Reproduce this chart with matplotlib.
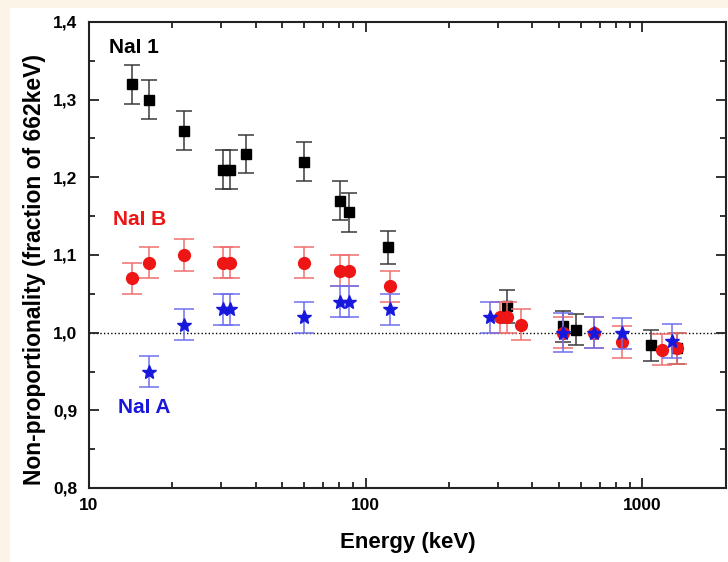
import matplotlib
matplotlib.use("Agg")
import matplotlib.pyplot as plt
from matplotlib.patches import Rectangle
from matplotlib.ticker import FixedLocator, FuncFormatter, LogLocator, NullFormatter

plt.rcParams["font.family"] = ["Liberation Sans", "DejaVu Sans"]
plt.rcParams["font.weight"] = "bold"

# NaI 1 (black squares)
e_nai1 = [14.35, 16.5, 22.1, 30.6, 32.2, 37.0, 59.6, 80.9, 86.7, 120.6,
          324, 517, 575, 1072, 1330]
v_nai1 = [1.32, 1.30, 1.26, 1.21, 1.21, 1.23, 1.22, 1.17, 1.155, 1.11,
          1.034, 1.008, 1.004, 0.984, 0.98]
err_nai1 = [0.025, 0.025, 0.025, 0.025, 0.025, 0.025, 0.025, 0.025, 0.025, 0.021,
            0.021, 0.02, 0.02, 0.02, 0.02]

# NaI B (red circles)
e_naib = [14.35, 16.5, 22.1, 30.6, 32.2, 59.6, 80.9, 86.7, 122,
          307, 325, 363, 517, 671, 842, 1178, 1330]
v_naib = [1.07, 1.09, 1.10, 1.09, 1.09, 1.09, 1.08, 1.08, 1.06,
          1.02, 1.02, 1.01, 1.00, 1.00, 0.988, 0.978, 0.98]
err_naib = [0.02] * len(e_naib)

# NaI A (blue stars)
e_naia = [16.5, 22.1, 30.6, 32.2, 59.6, 80.9, 86.7, 122, 281, 517, 671, 842, 1282]
v_naia = [0.95, 1.01, 1.03, 1.03, 1.02, 1.04, 1.04, 1.03, 1.02, 1.00, 1.00, 0.999, 0.989]
err_naia = [0.02, 0.02, 0.02, 0.02, 0.02, 0.02, 0.02, 0.02, 0.02, 0.025, 0.02, 0.02, 0.022]

y_ticks = [0.8, 0.9, 1.0, 1.1, 1.2, 1.3, 1.4]
x_ticks = [10, 100, 1000]

RED = "#ee1515"
BLUE = "#1818dd"
CREAM = "#fcf4e6"

fig = plt.figure(figsize=(7.28, 5.62), dpi=100, facecolor=CREAM)
fig.patches.append(Rectangle((10 / 728, 0), 1, 1 - 8 / 562, transform=fig.transFigure,
                             facecolor="white", edgecolor="none", zorder=-10))

ax = fig.add_axes([89 / 728, 74 / 562, (725.7 - 89) / 728, (488 - 22) / 562])
ax.set_facecolor("white")

ax.axhline(1.0, color="black", lw=1.0, ls=(0, (1, 1.6)), zorder=1)

ax.errorbar(e_nai1, v_nai1, yerr=err_nai1, fmt="s", color="black", ms=7.5,
            ecolor="#3a3a3a", elinewidth=1.1, capsize=6, capthick=1.1, zorder=3)
ax.errorbar(e_naib, v_naib, yerr=err_naib, fmt="o", color=RED, ms=8.5,
            ecolor="#f07070", elinewidth=1.1, capsize=7, capthick=1.1, zorder=4)
ax.errorbar(e_naia, v_naia, yerr=err_naia, fmt="*", color=BLUE, ms=10.5,
            ecolor="#7070ee", elinewidth=1.1, capsize=7, capthick=1.1, zorder=5)

ax.text(11.81, 1.3596, "NaI 1", color="black", fontsize=15, fontweight="bold",
        ha="left", va="baseline")
ax.text(12.18, 1.1386, "NaI B", color=RED, fontsize=15, fontweight="bold",
        ha="left", va="baseline")
ax.text(12.76, 0.8963, "NaI A", color=BLUE, fontsize=15, fontweight="bold",
        ha="left", va="baseline")

ax.set_xscale("log")
ax.set_xlim(10, 2000)
ax.set_ylim(0.8, 1.4)

ax.xaxis.set_major_locator(FixedLocator(x_ticks))
ax.xaxis.set_major_formatter(FuncFormatter(lambda v, p: f"{int(round(v))}"))
ax.xaxis.set_minor_locator(LogLocator(base=10, subs=range(2, 10)))
ax.xaxis.set_minor_formatter(NullFormatter())

ax.yaxis.set_major_locator(FixedLocator(y_ticks))
ax.yaxis.set_minor_locator(FixedLocator([0.85, 0.95, 1.05, 1.15, 1.25, 1.35]))
ax.yaxis.set_major_formatter(FuncFormatter(lambda v, p: f"{v:.1f}".replace(".", ",")))

ax.tick_params(which="both", direction="in", top=True, right=True, width=1.3,
               color="#222222")
ax.tick_params(which="major", length=7)
ax.tick_params(which="minor", length=4)
ax.tick_params(axis="x", which="major", pad=7, labelsize=12.5)
ax.tick_params(axis="y", which="major", pad=8.5, labelsize=12.5)
for lab in ax.get_xticklabels() + ax.get_yticklabels():
    lab.set_fontweight("bold")

for sp in ax.spines.values():
    sp.set_linewidth(1.5)
    sp.set_color("#222222")

ax.set_xlabel("Energy (keV)", fontsize=16, fontweight="bold")
ax.set_ylabel("Non-proportionality (fraction of 662keV)", fontsize=16.5, fontweight="bold")
ax.xaxis.label.set_verticalalignment("center")
ax.xaxis.set_label_coords(0.5, -0.118)
ax.yaxis.label.set_verticalalignment("center")
ax.yaxis.set_label_coords(-0.085, 0.468)

fig.savefig("out.png", dpi=100, facecolor=fig.get_facecolor())
